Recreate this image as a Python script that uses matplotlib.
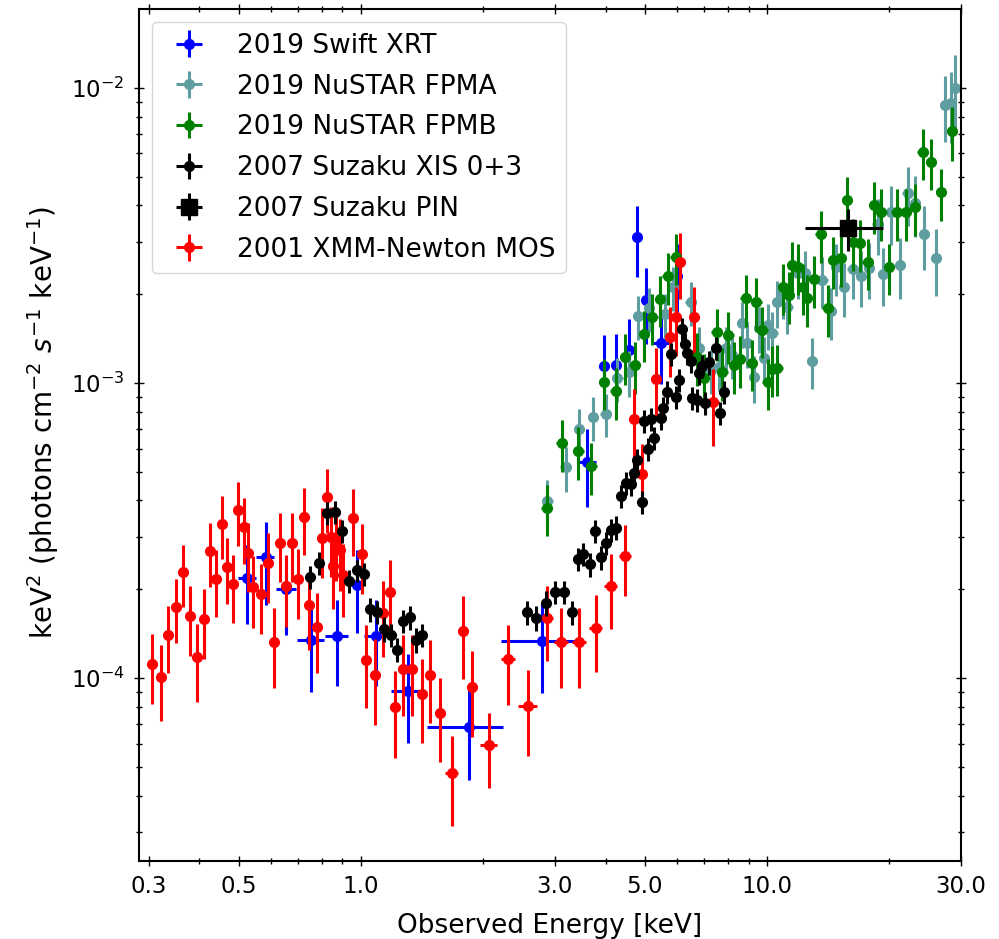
import numpy as np
import matplotlib
matplotlib.use('Agg')
import matplotlib.pyplot as plt
from matplotlib.ticker import NullFormatter

# 2019 Swift XRT
xrt_e = [0.525, 0.582, 0.655, 0.752, 0.874, 0.975, 1.087, 1.308, 1.845, 2.796,
         3.609, 3.967, 4.240, 4.572, 4.776, 5.026, 5.492, 5.993]
xrt_de = [0.027, 0.030, 0.038, 0.058, 0.057, 0.015, 0.068, 0.123, 0.39, 0.59,
          0.19, 0.10, 0.10, 0.10, 0.10, 0.12, 0.32, 0.17]
xrt_f = [2.18e-4, 2.57e-4, 2.00e-4, 1.35e-4, 1.39e-4, 2.07e-4, 1.39e-4, 9.03e-5, 6.82e-5, 1.34e-4,
         5.40e-4, 1.14e-3, 1.15e-3, 1.29e-3, 3.13e-3, 1.91e-3, 1.37e-3, 2.31e-3]
xrt_df = [6.5e-5, 8.0e-5, 6.0e-5, 4.5e-5, 4.5e-5, 6.5e-5, 4.5e-5, 3.0e-5, 2.3e-5, 4.5e-5,
          1.6e-4, 3.2e-4, 3.2e-4, 3.6e-4, 8.5e-4, 5.5e-4, 3.8e-4, 6.5e-4]

# 2019 NuSTAR FPMA
fpma_e = [2.877, 3.193, 3.443, 3.727, 4.006, 4.279, 4.572, 4.819, 5.121, 5.598,
          5.869, 6.488, 6.802, 7.266, 7.616, 7.911, 8.214, 8.694, 8.944, 9.290,
          9.557, 9.831, 10.02, 10.30, 10.60, 10.91, 11.22, 11.88, 12.41, 12.89,
          13.68, 14.35, 14.81, 15.47, 16.23, 17.02, 17.84, 18.70, 19.31, 20.17,
          21.23, 22.16, 23.06, 24.36, 26.03, 27.40, 28.35, 29.00]
fpma_f = [3.98e-4, 5.19e-4, 6.98e-4, 7.67e-4, 7.85e-4, 1.040e-3, 1.090e-3, 1.687e-3, 1.795e-3, 1.713e-3,
          2.115e-3, 1.887e-3, 1.314e-3, 1.107e-3, 1.133e-3, 1.314e-3, 1.244e-3, 1.597e-3, 1.366e-3, 1.048e-3,
          1.536e-3, 1.215e-3, 1.573e-3, 1.477e-3, 1.882e-3, 2.018e-3, 1.810e-3, 2.360e-3, 2.360e-3, 1.188e-3,
          2.234e-3, 1.754e-3, 2.472e-3, 2.115e-3, 2.434e-3, 2.305e-3, 2.454e-3, 3.459e-3, 2.342e-3, 3.799e-3,
          2.512e-3, 4.405e-3, 4.075e-3, 3.199e-3, 2.652e-3, 8.76e-3, 8.90e-3, 1.0e-2]
fpma_df = [7e-5, 9e-5, 1.2e-4, 1.3e-4, 1.3e-4, 1.8e-4, 1.9e-4, 2.9e-4, 3.0e-4, 2.9e-4,
           3.6e-4, 3.2e-4, 2.3e-4, 1.9e-4, 1.9e-4, 2.3e-4, 2.1e-4, 2.8e-4, 2.4e-4, 1.9e-4,
           2.7e-4, 2.2e-4, 2.8e-4, 2.7e-4, 3.4e-4, 3.7e-4, 3.4e-4, 4.4e-4, 4.5e-4, 2.3e-4,
           4.4e-4, 3.5e-4, 5.0e-4, 4.4e-4, 5.0e-4, 4.9e-4, 5.3e-4, 7.5e-4, 5.2e-4, 8.5e-4,
           5.8e-4, 1.0e-3, 9.5e-4, 7.8e-4, 6.8e-4, 2.2e-3, 2.4e-3, 2.9e-3]

# 2019 NuSTAR FPMB
fpmb_e = [2.867, 3.121, 3.430, 3.691, 3.967, 4.240, 4.468, 4.721, 4.977, 5.218,
          5.452, 5.694, 5.958, 6.736, 6.995, 7.517, 7.759, 8.028, 8.291, 8.580,
          8.862, 9.169, 9.412, 9.737, 10.02, 10.30, 10.60, 10.97, 11.29, 11.54,
          11.88, 12.22, 12.53, 13.06, 13.56, 14.08, 14.54, 15.19, 15.72, 16.23,
          16.95, 17.67, 18.35, 19.12, 19.97, 20.82, 21.96, 23.14, 24.13, 25.31,
          26.79, 28.51]
fpmb_f = [3.77e-4, 6.26e-4, 5.88e-4, 5.23e-4, 1.008e-3, 9.39e-4, 1.225e-3, 1.151e-3, 1.466e-3, 1.674e-3,
          1.926e-3, 2.305e-3, 2.673e-3, 1.228e-3, 1.040e-3, 1.489e-3, 1.090e-3, 1.454e-3, 1.151e-3, 1.206e-3,
          1.941e-3, 1.169e-3, 1.882e-3, 1.512e-3, 1.008e-3, 1.115e-3, 1.124e-3, 2.115e-3, 1.987e-3, 2.512e-3,
          2.472e-3, 2.115e-3, 1.941e-3, 2.251e-3, 3.199e-3, 1.795e-3, 2.612e-3, 2.652e-3, 4.171e-3, 3.006e-3,
          2.983e-3, 2.571e-3, 4.012e-3, 3.799e-3, 2.472e-3, 3.799e-3, 3.799e-3, 3.950e-3, 6.07e-3, 5.61e-3,
          4.44e-3, 7.15e-3]
fpmb_df = [7.5e-5, 1.25e-4, 1.2e-4, 1.05e-4, 2.0e-4, 1.9e-4, 2.4e-4, 2.3e-4, 2.9e-4, 3.3e-4,
           3.8e-4, 4.6e-4, 5.3e-4, 2.5e-4, 2.1e-4, 3.0e-4, 2.2e-4, 2.9e-4, 2.3e-4, 2.4e-4,
           3.9e-4, 2.3e-4, 3.8e-4, 3.0e-4, 2.0e-4, 2.2e-4, 2.2e-4, 4.2e-4, 4.0e-4, 5.0e-4,
           4.9e-4, 4.2e-4, 3.9e-4, 4.5e-4, 6.4e-4, 3.6e-4, 5.2e-4, 5.3e-4, 8.3e-4, 6.0e-4,
           6.0e-4, 5.1e-4, 8.0e-4, 7.6e-4, 4.9e-4, 7.6e-4, 7.6e-4, 7.9e-4, 1.2e-3, 1.1e-3,
           8.9e-4, 1.5e-3]

# 2007 Suzaku XIS 0+3
xis_e = [0.749, 0.788, 0.823, 0.861, 0.899, 0.936, 0.975, 1.019, 1.051, 1.097,
         1.137, 1.184, 1.229, 1.271, 1.320, 1.366, 1.416,
         2.568, 2.703, 2.860, 3.006, 3.168, 3.315, 3.430, 3.528, 3.654, 3.770,
         3.890, 4.020, 4.121, 4.240, 4.362, 4.481, 4.631, 4.702, 4.791, 4.913,
         4.977, 5.101, 5.170, 5.268, 5.472, 5.544, 5.662, 5.801, 5.958, 6.071,
         6.164, 6.270, 6.364, 6.510, 6.547, 6.713, 6.802, 6.906, 7.037, 7.198,
         7.476, 7.661, 7.837]
xis_f = [2.20e-4, 2.45e-4, 3.63e-4, 3.65e-4, 3.15e-4, 2.13e-4, 2.32e-4, 2.25e-4, 1.71e-4, 1.67e-4,
         1.47e-4, 1.40e-4, 1.25e-4, 1.56e-4, 1.61e-4, 1.35e-4, 1.40e-4,
         1.67e-4, 1.60e-4, 1.80e-4, 1.96e-4, 1.96e-4, 1.67e-4, 2.53e-4, 2.63e-4, 2.43e-4, 3.15e-4,
         2.57e-4, 2.87e-4, 3.18e-4, 3.23e-4, 4.14e-4, 4.58e-4, 4.55e-4, 4.95e-4, 5.48e-4, 3.95e-4,
         7.43e-4, 5.98e-4, 7.55e-4, 6.51e-4, 7.61e-4, 8.23e-4, 9.32e-4, 1.254e-3, 8.96e-4, 1.024e-3,
         1.524e-3, 1.356e-3, 1.264e-3, 1.188e-3, 8.90e-4, 8.76e-4, 1.081e-3, 1.142e-3, 8.55e-4, 1.178e-3,
         1.314e-3, 7.91e-4, 9.32e-4]
xis_df = [2.0e-5, 2.2e-5, 3.2e-5, 3.2e-5, 2.8e-5, 1.9e-5, 2.0e-5, 2.0e-5, 1.6e-5, 1.5e-5,
          1.4e-5, 1.3e-5, 1.2e-5, 1.4e-5, 1.5e-5, 1.3e-5, 1.3e-5,
          1.6e-5, 1.5e-5, 1.7e-5, 1.8e-5, 1.8e-5, 1.6e-5, 2.3e-5, 2.4e-5, 2.2e-5, 2.8e-5,
          2.4e-5, 2.6e-5, 2.9e-5, 3.0e-5, 3.7e-5, 4.1e-5, 4.1e-5, 4.5e-5, 5.0e-5, 3.6e-5,
          6.7e-5, 5.4e-5, 6.8e-5, 5.9e-5, 6.9e-5, 7.4e-5, 8.4e-5, 1.1e-4, 8.1e-5, 9.2e-5,
          1.4e-4, 1.2e-4, 1.1e-4, 1.1e-4, 8.0e-5, 7.9e-5, 9.7e-5, 1.0e-4, 7.7e-5, 1.1e-4,
          1.2e-4, 7.1e-5, 8.4e-5]

# 2007 Suzaku PIN
pin_e = [15.83]
pin_lo = [3.42]
pin_hi = [3.48]
pin_f = [3.35e-3]
pin_df = [5.5e-4]

# 2001 XMM-Newton MOS
mos_e = [0.305, 0.321, 0.335, 0.350, 0.365, 0.379, 0.394, 0.410, 0.424, 0.439,
         0.454, 0.469, 0.485, 0.498, 0.514, 0.528, 0.542, 0.568, 0.590, 0.610,
         0.632, 0.655, 0.676, 0.701, 0.723, 0.745, 0.778, 0.803, 0.826, 0.844,
         0.853, 0.869, 0.888, 0.905, 0.957, 1.007, 1.031, 1.081, 1.133, 1.179,
         1.213, 1.271, 1.333, 1.416, 1.479, 1.562, 1.673, 1.786, 1.874, 2.067,
         2.301, 2.578, 2.867, 3.114, 3.443, 3.786, 4.121, 4.474, 4.702, 4.913,
         5.319, 5.758, 5.958, 6.107, 6.610, 7.362]
mos_de = [0.004, 0.004, 0.004, 0.005, 0.005, 0.005, 0.005, 0.005, 0.006, 0.006,
          0.006, 0.006, 0.006, 0.006, 0.007, 0.007, 0.007, 0.008, 0.008, 0.010,
          0.010, 0.010, 0.010, 0.010, 0.010, 0.010, 0.012, 0.010, 0.010, 0.008,
          0.008, 0.008, 0.010, 0.010, 0.015, 0.015, 0.015, 0.02, 0.02, 0.02,
          0.03, 0.03, 0.03, 0.04, 0.04, 0.04, 0.06, 0.05, 0.05, 0.10,
          0.09, 0.14, 0.10, 0.12, 0.14, 0.14, 0.15, 0.15, 0.12, 0.12,
          0.12, 0.12, 0.12, 0.12, 0.12, 0.25]
mos_f = [1.115e-4, 1.008e-4, 1.398e-4, 1.740e-4, 2.287e-4, 1.622e-4, 1.178e-4, 1.585e-4, 2.694e-4, 2.166e-4,
         3.327e-4, 2.378e-4, 2.083e-4, 3.711e-4, 3.250e-4, 2.653e-4, 2.034e-4, 1.926e-4, 2.454e-4, 1.324e-4,
         2.868e-4, 2.050e-4, 2.868e-4, 2.166e-4, 3.513e-4, 1.768e-4, 1.489e-4, 2.983e-4, 4.108e-4, 3.006e-4,
         2.397e-4, 2.936e-4, 2.716e-4, 2.234e-4, 3.486e-4, 2.632e-4, 1.151e-4, 1.024e-4, 1.661e-4, 1.956e-4,
         7.97e-5, 1.073e-4, 1.073e-4, 8.83e-5, 1.024e-4, 7.61e-5, 4.76e-5, 1.443e-4, 9.32e-5, 5.93e-5,
         1.160e-4, 8.04e-5, 1.597e-4, 1.324e-4, 1.324e-4, 1.477e-4, 2.050e-4, 2.600e-4, 7.55e-4, 4.914e-4,
         1.032e-3, 1.432e-3, 1.674e-3, 2.571e-3, 1.674e-3, 8.62e-4]
mos_df = [3.0e-5, 2.9e-5, 3.6e-5, 4.2e-5, 5.5e-5, 4.3e-5, 3.5e-5, 4.2e-5, 6.5e-5, 5.6e-5,
          8.0e-5, 6.0e-5, 5.4e-5, 9.0e-5, 8.2e-5, 7.0e-5, 5.5e-5, 5.2e-5, 6.5e-5, 4.0e-5,
          7.5e-5, 5.6e-5, 7.5e-5, 5.8e-5, 9.0e-5, 5.2e-5, 4.5e-5, 8.0e-5, 1.0e-4, 8.0e-5,
          6.8e-5, 8.0e-5, 7.5e-5, 6.2e-5, 9.0e-5, 7.0e-5, 3.6e-5, 3.3e-5, 4.8e-5, 5.5e-5,
          2.6e-5, 3.3e-5, 3.3e-5, 2.8e-5, 3.2e-5, 2.4e-5, 1.6e-5, 4.5e-5, 3.0e-5, 1.7e-5,
          3.5e-5, 2.6e-5, 4.5e-5, 4.0e-5, 4.0e-5, 4.3e-5, 5.8e-5, 7.0e-5, 2.0e-4, 1.3e-4,
          2.8e-4, 3.8e-4, 4.4e-4, 6.5e-4, 4.4e-4, 2.5e-4]

xticks = [0.3, 0.5, 1.0, 3.0, 5.0, 10.0, 30.0]
xtick_labels = ['0.3', '0.5', '1.0', '3.0', '5.0', '10.0', '30.0']

# bin half widths hidden under the markers for these
nustar_frac = 0.03
xis_frac = 0.012

fig = plt.figure(figsize=(9.99, 9.39), dpi=100)
ax = fig.add_axes([0.1391, 0.0831, 0.8228, 0.9073])

ms = 7
elw = 2.2
h_xrt = ax.errorbar(xrt_e, xrt_f, xerr=xrt_de, yerr=xrt_df, fmt='o', color='blue',
                    ms=ms, elinewidth=elw, capsize=0, zorder=2.0, label='2019 Swift XRT')
h_a = ax.errorbar(fpma_e, fpma_f, xerr=nustar_frac * np.array(fpma_e), yerr=fpma_df, fmt='o',
                  color='cadetblue', ms=ms, elinewidth=elw, capsize=0, zorder=2.1, label='2019 NuSTAR FPMA')
h_b = ax.errorbar(fpmb_e, fpmb_f, xerr=nustar_frac * np.array(fpmb_e), yerr=fpmb_df, fmt='o',
                  color='green', ms=ms, elinewidth=elw, capsize=0, zorder=2.2, label='2019 NuSTAR FPMB')
h_mos = ax.errorbar(mos_e, mos_f, xerr=mos_de, yerr=mos_df, fmt='o', color='red',
                    ms=ms, elinewidth=elw, capsize=0, zorder=2.3, label='2001 XMM-Newton MOS')
h_xis = ax.errorbar(xis_e, xis_f, xerr=xis_frac * np.array(xis_e), yerr=xis_df, fmt='o', color='black',
                    ms=ms, elinewidth=elw, capsize=0, zorder=2.4, label='2007 Suzaku XIS 0+3')
h_pin = ax.errorbar(pin_e, pin_f, xerr=[pin_lo, pin_hi], yerr=pin_df, fmt='s', color='black',
                    ms=12, elinewidth=elw, capsize=0, zorder=2.5, label='2007 Suzaku PIN')

ax.set_xscale('log')
ax.set_yscale('log')
ax.set_xlim(0.284, 30.0)
ax.set_ylim(2.40e-5, 1.853e-2)

ax.set_xticks(xticks)
ax.set_xticklabels(xtick_labels)
ax.xaxis.set_minor_formatter(NullFormatter())
ax.yaxis.set_minor_formatter(NullFormatter())

ax.tick_params(which='both', direction='inout', top=True, right=True, labelsize=16.5, pad=7)
ax.tick_params(which='major', length=6.5, width=1.0)
ax.tick_params(which='minor', length=4, width=1.0)
for s in ax.spines.values():
    s.set_linewidth(1.5)

ax.set_xlabel('Observed Energy [keV]', fontsize=19, labelpad=11)
ax.set_ylabel(r'keV$^2$ (photons cm$^{-2}$ $s^{-1}$ keV$^{-1}$)', fontsize=20, labelpad=8)
ax.yaxis.set_label_coords(-0.095, 0.515)

ax.legend(handles=[h_xrt, h_a, h_b, h_xis, h_pin, h_mos], loc='upper left',
          fontsize=19, labelspacing=0.56, borderaxespad=0.5)

plt.savefig('out.png', dpi=100)
